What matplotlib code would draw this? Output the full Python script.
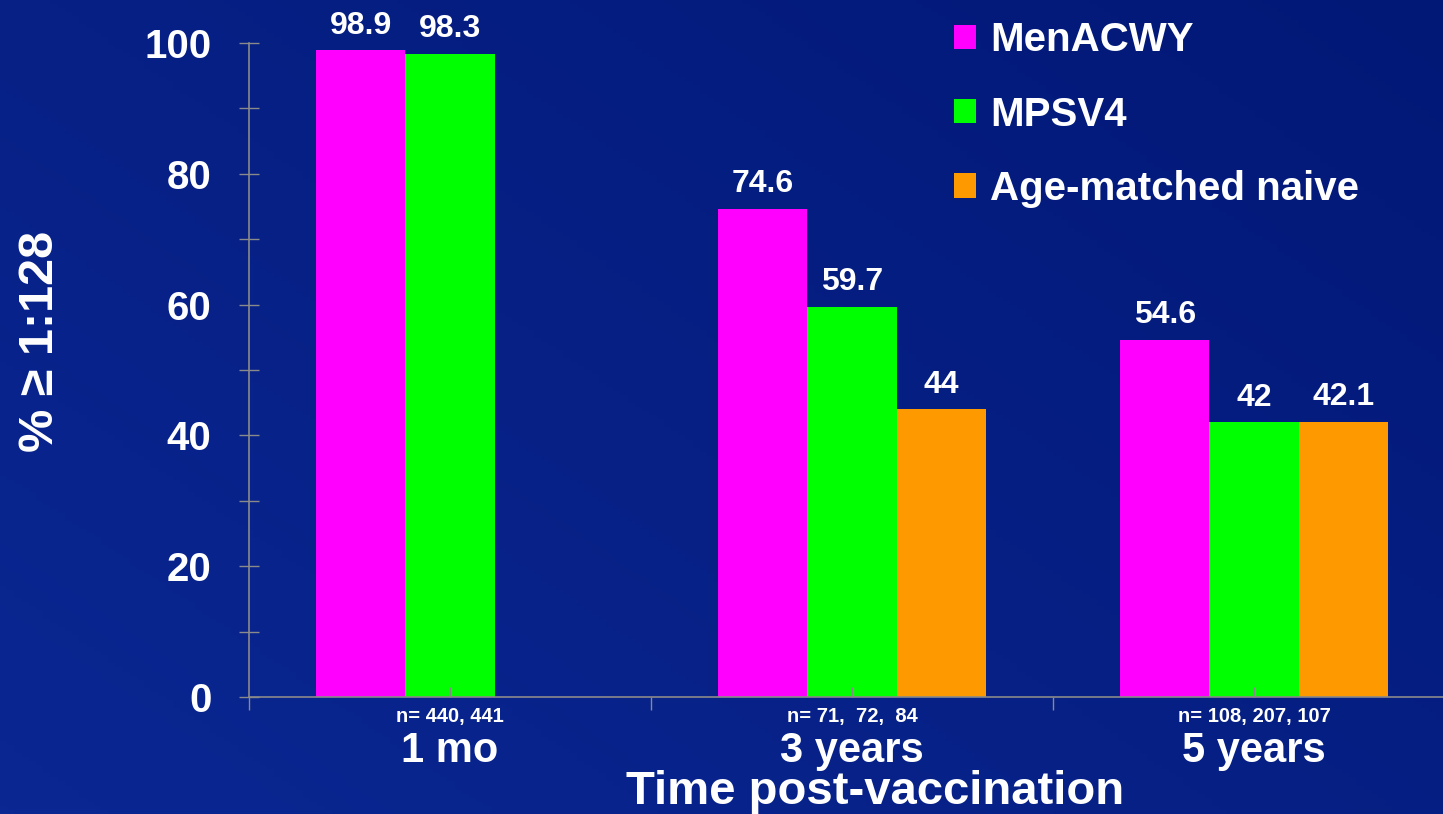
import numpy as np
import matplotlib.pyplot as plt
from matplotlib.colors import LinearSegmentedColormap
from matplotlib.ticker import FixedLocator, MultipleLocator

plt.rcParams['font.family'] = ['Liberation Sans', 'DejaVu Sans']
plt.rcParams['font.weight'] = 'bold'

# --- Dados ---
categorias = ['1 mo', '3 years', '5 years']
amostras = ['n= 440, 441', 'n= 71,  72,  84', 'n= 108, 207, 107']
series = ['MenACWY', 'MPSV4', 'Age-matched naive']
menacwy = [98.9, 74.6, 54.6]
mpsv4 = [98.3, 59.7, 42.0]
naive = [np.nan, 44.0, 42.1]
cores = ['#ff00ff', '#00ff00', '#ff9900']

BRANCO = 'white'
CINZA = '#8a8a8a'

fig = plt.figure(figsize=(14.43, 8.14), dpi=100)

# fundo azul com leve degradê
fundo = fig.add_axes([0, 0, 1, 1], zorder=-10)
yy, xx = np.mgrid[0:1:200j, 0:1:200j]
t = 0.55 * (1 - xx) + 0.45 * yy
cmap = LinearSegmentedColormap.from_list('azul', ['#021877', '#0a2792'])
fundo.imshow(t, cmap=cmap, aspect='auto', extent=[0, 1, 0, 1])
fundo.axis('off')

ax = fig.add_axes([249 / 1443, 117 / 814, 1206 / 1443, 654 / 814])
ax.set_facecolor('none')

x = np.arange(len(categorias))
largura = 2 / 9
for i, (valores, cor, nome) in enumerate(zip([menacwy, mpsv4, naive], cores, series)):
    pos = x + (i - 1) * largura
    ax.bar(pos, valores, width=largura, color=cor, label=nome, linewidth=0)
    for xb, v in zip(pos, valores):
        if np.isnan(v):
            continue
        ax.annotate(f'{v:g}', (xb, v), xytext=(0, 12), textcoords='offset points',
                    ha='center', va='baseline', color=BRANCO, fontsize=23, fontweight='bold')

ax.set_xlim(-0.5, 2.5)
ax.set_ylim(0, 100)

# eixos
for lado in ['top', 'right']:
    ax.spines[lado].set_visible(False)
for lado in ['left', 'bottom']:
    ax.spines[lado].set_color(CINZA)
    ax.spines[lado].set_linewidth(1.2)

ax.yaxis.set_major_locator(MultipleLocator(20))
ax.yaxis.set_minor_locator(MultipleLocator(10))
ax.tick_params(axis='y', which='both', direction='inout', length=14, width=1,
               color=CINZA, labelcolor=BRANCO, labelsize=29, pad=20)

ax.xaxis.set_major_locator(FixedLocator(x))
ax.xaxis.set_minor_locator(FixedLocator([-0.5, 0.5, 1.5]))
ax.set_xticklabels(amostras)
ax.tick_params(axis='x', which='major', direction='in', length=7, width=1,
               color=CINZA, labelcolor=BRANCO, labelsize=14.5, pad=7)
ax.tick_params(axis='x', which='minor', direction='out', length=9, width=1, color=CINZA)

# rótulos das categorias abaixo do n
for xi, cat in zip(x, categorias):
    ax.text(xi, -65 / 654, cat, transform=ax.get_xaxis_transform(),
            ha='center', va='baseline', color=BRANCO, fontsize=30, fontweight='bold')

fig.text(875 / 1443, 10 / 814, 'Time post-vaccination', ha='center', va='baseline',
         color=BRANCO, fontsize=34, fontweight='bold')

ax.set_ylabel('% ≥ 1:128', color=BRANCO, fontsize=35, fontweight='bold')
ax.yaxis.set_label_coords((63 - 249) / 1206, (697 - 341) / 654)

leg = ax.legend(loc='upper left', bbox_to_anchor=(918 / 1443, 1 + 15 / 814),
                bbox_transform=fig.transFigure, frameon=False, fontsize=29,
                handlelength=0.55, handleheight=0.55, handletextpad=0.35,
                labelspacing=0.9)
for txt in leg.get_texts():
    txt.set_color(BRANCO)

fig.savefig('out.png', dpi=100, facecolor=fig.get_facecolor())
